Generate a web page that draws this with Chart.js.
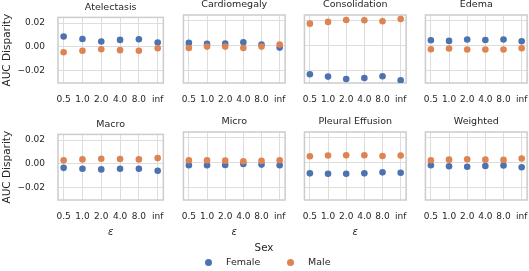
<!DOCTYPE html>
<html>
<head>
<meta charset="utf-8">
<script src="https://cdn.jsdelivr.net/npm/chart.js@4.4.1/dist/chart.umd.min.js"></script>
<style>
    html, body { margin: 0; padding: 0; background: #fff; overflow: hidden; }
    body { width: 529px; height: 271px; position: relative; font-family: 'DejaVu Sans', sans-serif; color: #262626; }
    .panel { position: absolute; }
    .legend-title { position: absolute; left: 214px; top: 241px; width: 100px; text-align: center; font-size: 10.3px; line-height: 12px; }
    .legend-dot { position: absolute; width: 7px; height: 7px; border-radius: 50%; }
    .legend-label { position: absolute; font-size: 9.5px; line-height: 12px; }
</style>
</head>
<body>
<div id="panels"></div>
<div id="legend"></div>
<script>
// Categories and tick labels
const epsLabels = ['0.5', '1.0', '2.0', '4.0', '8.0', 'inf'];
const yTickValues = [-0.02, 0, 0.02];
const panelNames = ['Atelectasis', 'Cardiomegaly', 'Consolidation', 'Edema', 'Macro', 'Micro', 'Pleural Effusion', 'Weighted'];
const seriesNames = ['Female', 'Male'];

// AUC disparity per epsilon
const atelectasisFemale = [0.0088, 0.0067, 0.0045, 0.0059, 0.0064, 0.0037];
const atelectasisMale = [-0.0045, -0.0032, -0.0019, -0.0027, -0.0032, -0.0011];
const cardiomegalyFemale = [0.0022, 0.0014, 0.0016, 0.0027, 0.0008, -0.0016];
const cardiomegalyMale = [-0.0019, -0.0008, -0.0008, -0.0019, -0.0008, 0.0008];
const consolidationFemale = [-0.0232, -0.0251, -0.0270, -0.0262, -0.0248, -0.0281];
const consolidationMale = [0.0178, 0.0192, 0.0208, 0.0205, 0.0197, 0.0216];
const edemaFemale = [0.0043, 0.0038, 0.0049, 0.0046, 0.0049, 0.0035];
const edemaMale = [-0.0030, -0.0024, -0.0032, -0.0032, -0.0032, -0.0022];
const macroFemale = [-0.0033, -0.0041, -0.0046, -0.0041, -0.0041, -0.0057];
const macroMale = [0.0030, 0.0038, 0.0044, 0.0041, 0.0038, 0.0049];
const microFemale = [-0.0022, -0.0022, -0.0019, -0.0011, -0.0016, -0.0022];
const microMale = [0.0019, 0.0019, 0.0016, 0.0011, 0.0014, 0.0019];
const pleuralFemale = [-0.0087, -0.0090, -0.0090, -0.0087, -0.0079, -0.0082];
const pleuralMale = [0.0052, 0.0057, 0.0060, 0.0060, 0.0054, 0.0057];
const weightedFemale = [-0.0022, -0.0030, -0.0033, -0.0027, -0.0024, -0.0038];
const weightedMale = [0.0019, 0.0024, 0.0027, 0.0024, 0.0022, 0.0033];

const femaleByPanel = [atelectasisFemale, cardiomegalyFemale, consolidationFemale, edemaFemale,
                       macroFemale, microFemale, pleuralFemale, weightedFemale];
const maleByPanel = [atelectasisMale, cardiomegalyMale, consolidationMale, edemaMale,
                     macroMale, microMale, pleuralMale, weightedMale];

// Layout / style
const colors = ['#4C72B0', '#DD8452'];
const textColor = '#262626';
const plotLefts = [58, 180, 301, 422];
const plotTops = [15, 132];
const PLOT_W = 107, PLOT_H = 68;
const TITLE_H = 16;
const Y_MIN = -0.0303, Y_MAX = 0.0248;

Chart.defaults.font.family = "'DejaVu Sans', sans-serif";
Chart.defaults.color = textColor;

// light grey box around each plot area (seaborn whitegrid spines)
const framePlugin = {
    id: 'frame',
    beforeDatasetsDraw(chart) {
        const a = chart.chartArea;
        const ctx = chart.ctx;
        ctx.save();
        ctx.strokeStyle = '#cccccc';
        ctx.lineWidth = 1.5;
        ctx.strokeRect(a.left, a.top, a.right - a.left, a.bottom - a.top);
        ctx.restore();
    }
};

const fmtY = v => (v < 0 ? '\u2212' : '') + Math.abs(v).toFixed(2);

const panelsEl = document.getElementById('panels');

panelNames.forEach((name, idx) => {
    const row = Math.floor(idx / 4);
    const col = idx % 4;
    const isBottom = row === 1;
    const padL = col === 0 ? 58 : 10;
    const padR = 10;
    const xAxisH = isBottom ? 40 : 30;

    const w = padL + PLOT_W + padR;
    const h = TITLE_H + PLOT_H + xAxisH;

    const div = document.createElement('div');
    div.className = 'panel';
    div.style.left = (plotLefts[col] - padL) + 'px';
    div.style.top = (plotTops[row] - TITLE_H) + 'px';
    div.style.width = w + 'px';
    div.style.height = h + 'px';
    const canvas = document.createElement('canvas');
    canvas.width = w;
    canvas.height = h;
    div.appendChild(canvas);
    panelsEl.appendChild(div);

    const female = femaleByPanel[idx].map((v, i) => ({ x: i, y: v }));
    const male = maleByPanel[idx].map((v, i) => ({ x: i, y: v }));

    new Chart(canvas.getContext('2d'), {
        type: 'scatter',
        data: {
            datasets: [
                { label: seriesNames[0], data: female, backgroundColor: colors[0], borderWidth: 0, pointRadius: 3.3, order: 1 },
                { label: seriesNames[1], data: male, backgroundColor: colors[1], borderWidth: 0, pointRadius: 3.3, order: 0 }
            ]
        },
        options: {
            responsive: false,
            animation: false,
            devicePixelRatio: 1,
            layout: { padding: { left: col === 0 ? 0 : 10, right: padR, top: 0, bottom: 0 } },
            plugins: {
                legend: { display: false },
                tooltip: { enabled: false },
                title: {
                    display: true,
                    fullSize: false,
                    text: name,
                    color: textColor,
                    font: { size: 9.5, weight: 'normal', lineHeight: '12px' },
                    padding: { top: 0, bottom: 4 }
                }
            },
            scales: {
                x: {
                    type: 'linear',
                    min: -0.3,
                    max: 5.3,
                    afterBuildTicks: s => { s.ticks = epsLabels.map((_, i) => ({ value: i })); },
                    afterFit: s => { s.height = xAxisH; },
                    grid: { color: '#dddddd', lineWidth: 1, drawTicks: false },
                    border: { display: false },
                    ticks: {
                        autoSkip: false, maxRotation: 0, minRotation: 0, padding: 11,
                        font: { size: 9 }, color: textColor,
                        callback: v => epsLabels[v]
                    },
                    title: {
                        display: isBottom && col < 3,
                        text: 'ε',
                        color: textColor,
                        font: { size: 10, style: 'italic' },
                        padding: { top: 0, bottom: 2 }
                    }
                },
                y: {
                    min: Y_MIN,
                    max: Y_MAX,
                    afterBuildTicks: s => { s.ticks = yTickValues.map(v => ({ value: v })); },
                    afterFit: s => { s.width = col === 0 ? 58 : 0; },
                    grid: { color: '#dddddd', lineWidth: 1, drawTicks: false },
                    border: { display: false },
                    ticks: {
                        display: col === 0, padding: 13,
                        font: { size: 9 }, color: textColor,
                        callback: v => fmtY(v)
                    },
                    title: {
                        display: col === 0,
                        text: 'AUC Disparity',
                        color: textColor,
                        font: { size: 10.5 },
                        padding: { top: 1, bottom: 0 }
                    }
                }
            }
        },
        plugins: [framePlugin]
    });
});

// Shared legend at the bottom
const legendEl = document.getElementById('legend');
const legendDotX = [208, 290];
legendEl.innerHTML = '<div class="legend-title">Sex</div>' + seriesNames.map((s, i) => `
    <div class="legend-dot" style="left:${legendDotX[i] - 3.5}px; top:${262 - 3.5}px; background:${colors[i]};"></div>
    <div class="legend-label" style="left:${legendDotX[i] + 18}px; top:256px;">${s}</div>
`).join('');
</script>
</body>
</html>
